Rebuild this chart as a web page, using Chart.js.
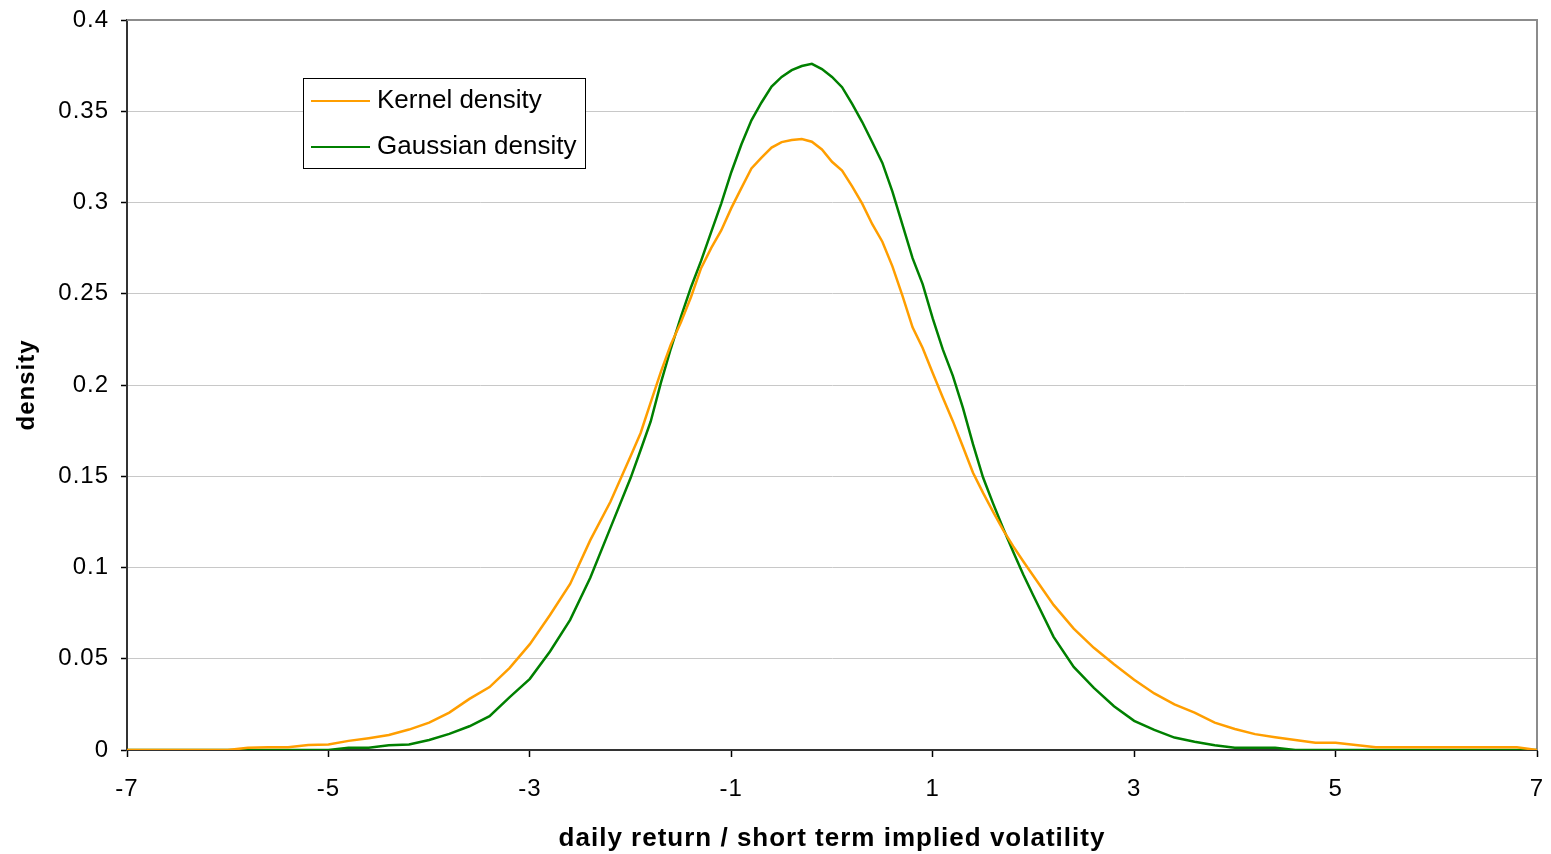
<!DOCTYPE html>
<html>
<head>
<meta charset="utf-8">
<script src="https://cdn.jsdelivr.net/npm/chart.js@4.4.1/dist/chart.umd.min.js"></script>
<style>
	html, body { margin: 0; padding: 0; background: #fff; }
	#wrap { width: 1551px; height: 854px; position: relative; }
</style>
</head>
<body>
<div id="wrap"><canvas id="chart"></canvas></div>
<script>
// x positions (daily return / short term implied volatility), finer in the middle
const xValues = [
	-7.0, -6.8, -6.6, -6.4, -6.2, -6.0, -5.8, -5.6, -5.4, -5.2,
	-5.0, -4.8, -4.6, -4.4, -4.2, -4.0, -3.8, -3.6, -3.4, -3.2,
	-3.0, -2.8, -2.6, -2.4, -2.2,
	-2.0, -1.9, -1.8, -1.7, -1.6, -1.5, -1.4, -1.3, -1.2, -1.1,
	-1.0, -0.9, -0.8, -0.7, -0.6, -0.5, -0.4, -0.3, -0.2, -0.1,
	0.0, 0.1, 0.2, 0.3, 0.4, 0.5, 0.6, 0.7, 0.8, 0.9,
	1.0, 1.1, 1.2, 1.3, 1.4, 1.5, 1.6, 1.7, 1.8, 1.9,
	2.0,
	2.2, 2.4, 2.6, 2.8,
	3.0, 3.2, 3.4, 3.6, 3.8, 4.0, 4.2, 4.4, 4.6, 4.8,
	5.0, 5.2, 5.4, 5.6, 5.8, 6.0, 6.2, 6.4, 6.6, 6.8, 7.0
];

const kernelDensity = [
	0, 0, 0, 0, 0, 0, 0.0012, 0.0015, 0.0015, 0.0027,
	0.003, 0.005, 0.0065, 0.0082, 0.0112, 0.015, 0.0205, 0.028, 0.0345, 0.045,
	0.058, 0.074, 0.091, 0.115, 0.136,
	0.161, 0.1737, 0.1905, 0.2071, 0.2222, 0.2344, 0.2482, 0.264, 0.275, 0.2847,
	0.2969, 0.3079, 0.3187, 0.3246, 0.3301, 0.3331, 0.3342, 0.3348, 0.3333, 0.3291,
	0.3223, 0.3175, 0.3088, 0.2994, 0.2881, 0.2785, 0.265, 0.2488, 0.2316, 0.2203,
	0.2066, 0.1931, 0.1802, 0.1662, 0.1519, 0.1409, 0.1305, 0.1205, 0.1116, 0.1033,
	0.0953,
	0.0795, 0.0665, 0.056, 0.047,
	0.0385, 0.031, 0.025, 0.0205, 0.015, 0.0115, 0.0087, 0.007, 0.0055, 0.004,
	0.004, 0.0027, 0.0015, 0.0015, 0.0015, 0.0015, 0.0015, 0.0015, 0.0015, 0.0015, 0
];

const gaussianDensity = [
	0, 0, 0, 0, 0, 0, 0, 0, 0, 0,
	0, 0.0013, 0.0013, 0.0026, 0.003, 0.0055, 0.0088, 0.013, 0.0185, 0.029,
	0.039, 0.054, 0.0713, 0.0944, 0.1217,
	0.149, 0.1644, 0.180, 0.201, 0.220, 0.2373, 0.2536, 0.268, 0.2838, 0.2994,
	0.3166, 0.3318, 0.345, 0.3548, 0.3635, 0.3688, 0.3725, 0.3748, 0.376, 0.3731,
	0.3688, 0.3632, 0.354, 0.3441, 0.333, 0.3217, 0.306, 0.2878, 0.2695, 0.2553,
	0.2365, 0.2195, 0.205, 0.1875, 0.1676, 0.1493, 0.135, 0.1214, 0.1085, 0.096,
	0.0845,
	0.062, 0.0455, 0.034, 0.024,
	0.016, 0.011, 0.0068, 0.0045, 0.0026, 0.0013, 0.0013, 0.0013, 0, 0,
	0, 0, 0, 0, 0, 0, 0, 0, 0, 0, 0
];

const seriesNames = ['Kernel density', 'Gaussian density'];
const seriesColors = ['#ff9e00', '#008000'];

const xTickLabels = ['-7', '-5', '-3', '-1', '1', '3', '5', '7'];
const yTickLabels = ['0', '0.05', '0.1', '0.15', '0.2', '0.25', '0.3', '0.35', '0.4'];

const FONT = '"Liberation Sans", Arial, sans-serif';

const toPoints = (ys) => xValues.map((x, i) => ({ x, y: ys[i] }));

// the reference text is a bit wide, so space the letters out a little
const spacing = {
	id: 'spacing',
	beforeDraw(chart) { chart.ctx.letterSpacing = '1px'; },
	afterDraw(chart) { chart.ctx.letterSpacing = '0px'; },
};

// plot frame: grey top and right edges
const frame = {
	id: 'frame',
	beforeDatasetsDraw(chart) {
		const { ctx, chartArea: a } = chart;
		ctx.save();
		ctx.strokeStyle = '#8c8c8c';
		ctx.lineWidth = 2;
		ctx.beginPath();
		ctx.moveTo(a.left, a.top);
		ctx.lineTo(a.right, a.top);
		ctx.lineTo(a.right, a.bottom);
		ctx.stroke();
		ctx.restore();
	}
};

// boxed legend inside the plot area
const boxLegend = {
	id: 'boxLegend',
	afterDraw(chart) {
		const { ctx, chartArea: a } = chart;
		const x = a.left + 176, y = a.top + 58, w = 282, h = 90;
		ctx.save();
		ctx.letterSpacing = '0px';
		ctx.fillStyle = '#fff';
		ctx.fillRect(x, y, w, h);
		ctx.strokeStyle = '#000';
		ctx.lineWidth = 1;
		ctx.strokeRect(x + 0.5, y + 0.5, w, h);
		ctx.font = '26px ' + FONT;
		ctx.textBaseline = 'middle';
		chart.data.datasets.forEach((ds, i) => {
			const ly = y + 23 + i * 46;
			ctx.strokeStyle = ds.borderColor;
			ctx.lineWidth = 2;
			ctx.beginPath();
			ctx.moveTo(x + 8, ly);
			ctx.lineTo(x + 67, ly);
			ctx.stroke();
			ctx.fillStyle = '#000';
			ctx.fillText(ds.label, x + 74, ly);
		});
		ctx.restore();
	}
};

new Chart(document.getElementById('chart'), {
	type: 'line',
	data: {
		datasets: [
			{
				label: seriesNames[0],
				data: toPoints(kernelDensity),
				borderColor: seriesColors[0],
				borderWidth: 2.5,
				pointRadius: 0,
				tension: 0,
			},
			{
				label: seriesNames[1],
				data: toPoints(gaussianDensity),
				borderColor: seriesColors[1],
				borderWidth: 2.5,
				pointRadius: 0,
				tension: 0,
			},
		]
	},
	options: {
		responsive: true,
		maintainAspectRatio: false,
		animation: false,
		layout: { padding: { left: 0, top: 20, right: 14, bottom: 0 } },
		plugins: {
			legend: { display: false },
			tooltip: { enabled: false },
		},
		scales: {
			x: {
				type: 'linear',
				min: -7,
				max: 7,
				afterFit: (s) => { s.height = 104; s.paddingLeft = 0; s.paddingRight = 0; },
				ticks: {
					stepSize: 2,
					color: '#000',
					font: { family: FONT, size: 24 },
					padding: 18,
					maxRotation: 0,
					callback: (v, i) => xTickLabels[i],
				},
				grid: { drawOnChartArea: false, drawTicks: true, tickLength: 7, tickColor: '#000', tickWidth: 1.5 },
				border: { color: '#333', width: 2 },
				title: {
					display: true,
					text: 'daily return / short term implied volatility',
					color: '#000',
					font: { family: FONT, size: 26, weight: 'bold' },
					padding: { top: 4, bottom: 0 },
				},
			},
			y: {
				min: 0,
				max: 0.4,
				afterFit: (s) => { s.width = 127; s.paddingTop = 0; s.paddingBottom = 0; },
				ticks: {
					stepSize: 0.05,
					color: '#000',
					font: { family: FONT, size: 24 },
					padding: 12,
					callback: (v, i) => yTickLabels[i],
				},
				grid: { color: '#c8c8c8', lineWidth: 1, tickColor: '#000', tickLength: 6, tickWidth: 1.5 },
				border: { color: '#333', width: 2 },
				title: {
					display: true,
					text: 'density',
					color: '#000',
					font: { family: FONT, size: 24, weight: 'bold' },
					padding: { top: 13, bottom: 0 },
				},
			},
		},
	},
	plugins: [spacing, frame, boxLegend],
});
</script>
</body>
</html>
